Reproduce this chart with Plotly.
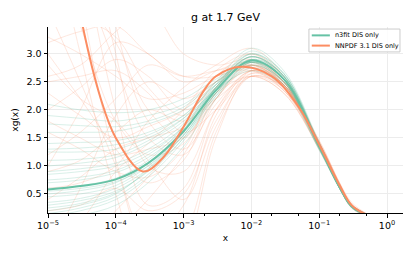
import plotly.graph_objects as go

# ---- data ----
x_grid = [1e-5, 3e-5, 1e-4, 3e-4, 1e-3, 3e-3, 1e-2, 3e-2, 0.1, 0.2, 0.3, 0.5, 0.7]

n3fit_central = [0.58, 0.64, 0.76, 1.05, 1.62, 2.35, 2.88, 2.55, 1.35, 0.62, 0.28, 0.12, 0.04]

n3fit_replicas = [
    [0.15, 0.25, 0.45, 0.85, 1.5, 2.3, 2.95, 2.6, 1.35, 0.6, 0.27, 0.12, 0.04],
    [1.9, 1.85, 1.8, 1.9, 2.1, 2.5, 2.85, 2.45, 1.3, 0.62, 0.3, 0.14, 0.05],
    [0.9, 0.95, 1.05, 1.3, 1.75, 2.4, 2.9, 2.55, 1.38, 0.63, 0.28, 0.12, 0.05],
    [0.3, 0.38, 0.55, 0.9, 1.5, 2.25, 2.8, 2.5, 1.32, 0.6, 0.26, 0.11, 0.04],
    [1.4, 1.42, 1.45, 1.6, 1.9, 2.45, 3.0, 2.65, 1.4, 0.66, 0.3, 0.13, 0.05],
    [0.05, 0.12, 0.3, 0.7, 1.35, 2.2, 2.85, 2.55, 1.33, 0.6, 0.27, 0.13, 0.05],
    [0.7, 0.75, 0.88, 1.15, 1.65, 2.35, 2.9, 2.6, 1.36, 0.63, 0.27, 0.12, 0.04],
    [1.1, 1.12, 1.2, 1.45, 1.85, 2.5, 3.1, 2.7, 1.42, 0.64, 0.29, 0.13, 0.05],
    [0.45, 0.5, 0.65, 1.0, 1.6, 2.3, 2.75, 2.45, 1.3, 0.6, 0.26, 0.12, 0.04],
    [0.2, 0.3, 0.5, 0.95, 1.6, 2.4, 3.05, 2.65, 1.4, 0.65, 0.28, 0.12, 0.05],
    [1.6, 1.6, 1.62, 1.75, 2.0, 2.45, 2.8, 2.5, 1.34, 0.62, 0.28, 0.12, 0.04],
    [0.6, 0.65, 0.78, 1.1, 1.7, 2.45, 3.0, 2.6, 1.35, 0.6, 0.25, 0.1, 0.04],
    [1.25, 1.25, 1.3, 1.5, 1.85, 2.35, 2.7, 2.4, 1.28, 0.6, 0.27, 0.13, 0.05],
    [0.35, 0.42, 0.6, 0.95, 1.55, 2.3, 2.9, 2.62, 1.38, 0.62, 0.27, 0.12, 0.04],
    [0.85, 0.9, 1.0, 1.25, 1.7, 2.4, 2.95, 2.55, 1.35, 0.62, 0.28, 0.12, 0.05],
    [2.1, 2.0, 1.95, 2.0, 2.2, 2.55, 2.85, 2.5, 1.32, 0.62, 0.28, 0.12, 0.05],
    [0.5, 0.56, 0.7, 1.05, 1.65, 2.4, 2.95, 2.6, 1.37, 0.62, 0.27, 0.12, 0.04],
    [1.0, 1.05, 1.15, 1.4, 1.8, 2.4, 2.85, 2.5, 1.33, 0.61, 0.28, 0.12, 0.05],
    [0.25, 0.33, 0.52, 0.92, 1.55, 2.35, 3.0, 2.65, 1.38, 0.62, 0.27, 0.12, 0.04],
    [1.75, 1.72, 1.7, 1.8, 2.05, 2.5, 2.9, 2.55, 1.35, 0.63, 0.28, 0.12, 0.05],
    [0.75, 0.8, 0.92, 1.2, 1.7, 2.4, 2.95, 2.6, 1.36, 0.62, 0.27, 0.12, 0.04],
    [0.1, 0.2, 0.4, 0.8, 1.45, 2.25, 2.85, 2.55, 1.35, 0.62, 0.28, 0.12, 0.05],
    [1.3, 1.32, 1.38, 1.55, 1.9, 2.45, 2.95, 2.6, 1.38, 0.63, 0.28, 0.12, 0.05],
    [0.55, 0.6, 0.72, 1.0, 1.55, 2.3, 2.85, 2.55, 1.34, 0.61, 0.27, 0.12, 0.04],
]

nnpdf_x = [1e-5, 2e-5, 3e-5, 6e-5, 1e-4, 2.5e-4, 5e-4, 1e-3, 2e-3, 3e-3, 7e-3,
           2e-2, 5e-2, 0.1, 0.2, 0.3, 0.5, 0.7]
nnpdf_central = [8.0, 5.0, 3.7, 2.2, 1.5, 0.9, 1.15, 1.7, 2.35, 2.6, 2.77,
                 2.6, 2.05, 1.38, 0.65, 0.3, 0.12, 0.04]

nnpdf_replicas = [
    [3.3, 3.0, 2.6, 2.2, 2.3, 2.6, 2.7, 2.35, 1.4, 0.7, 0.32, 0.14, 0.05],
    [6.0, 4.5, 2.8, 1.5, 1.2, 2.2, 2.85, 2.5, 1.35, 0.6, 0.28, 0.12, 0.05],
    [-1.0, -0.5, 0.2, 0.8, 1.6, 2.5, 2.8, 2.45, 1.4, 0.66, 0.3, 0.14, 0.05],
    [2.0, 2.4, 2.9, 2.6, 2.0, 2.4, 2.9, 2.5, 1.3, 0.6, 0.26, 0.1, 0.04],
    [8.0, 5.0, 2.0, 0.3, 0.6, 2.0, 2.7, 2.4, 1.45, 0.7, 0.35, 0.15, 0.06],
    [0.4, 0.8, 1.3, 1.5, 1.7, 2.3, 2.6, 2.3, 1.3, 0.62, 0.3, 0.13, 0.05],
    [4.5, 4.0, 3.2, 2.0, 1.5, 2.4, 2.95, 2.55, 1.4, 0.65, 0.28, 0.12, 0.05],
    [-2.0, -1.0, -0.2, 0.4, 1.2, 2.2, 2.75, 2.5, 1.45, 0.68, 0.3, 0.12, 0.04],
    [3.0, 2.2, 1.3, 0.7, 1.1, 2.3, 2.8, 2.4, 1.35, 0.63, 0.29, 0.13, 0.05],
    [1.2, 1.6, 2.2, 2.8, 2.6, 2.7, 2.8, 2.45, 1.38, 0.62, 0.27, 0.12, 0.05],
    [10.0, 6.0, 3.0, 1.0, 0.9, 2.0, 2.65, 2.4, 1.4, 0.66, 0.3, 0.13, 0.05],
    [2.6, 2.8, 3.4, 3.8, 3.0, 2.8, 2.9, 2.5, 1.35, 0.6, 0.25, 0.1, 0.04],
    [0.2, 0.3, 0.6, 0.2, 0.5, 1.8, 2.6, 2.4, 1.42, 0.68, 0.32, 0.14, 0.05],
    [5.0, 3.5, 1.8, 1.2, 1.4, 2.3, 2.7, 2.35, 1.3, 0.6, 0.3, 0.15, 0.06],
    [1.6, 1.3, 0.9, 0.8, 1.3, 2.4, 2.85, 2.5, 1.4, 0.66, 0.3, 0.12, 0.04],
    [3.5, 3.6, 3.3, 2.4, 1.9, 2.5, 2.75, 2.45, 1.37, 0.64, 0.29, 0.13, 0.05],
    [-0.5, 0.6, 1.9, 2.5, 2.2, 2.5, 2.8, 2.5, 1.36, 0.62, 0.27, 0.12, 0.04],
    [7.0, 4.0, 1.1, -0.3, 0.3, 1.9, 2.7, 2.45, 1.4, 0.65, 0.3, 0.13, 0.05],
    [2.3, 1.9, 1.5, 1.7, 2.0, 2.6, 3.0, 2.6, 1.4, 0.65, 0.3, 0.14, 0.05],
    [0.9, 1.1, 1.6, 2.0, 1.8, 2.2, 2.6, 2.3, 1.32, 0.62, 0.3, 0.14, 0.05],
    [3.8, 2.5, 1.0, -0.5, -0.2, 1.6, 2.6, 2.4, 1.4, 0.68, 0.31, 0.13, 0.05],
    [1.0, 2.0, 3.2, 3.0, 2.5, 2.7, 2.85, 2.45, 1.35, 0.62, 0.28, 0.12, 0.05],
    [12.0, 7.0, 3.5, 1.8, 1.3, 2.1, 2.7, 2.45, 1.4, 0.66, 0.3, 0.13, 0.05],
    [2.8, 2.2, 1.8, 1.1, 0.4, 1.7, 2.7, 2.5, 1.42, 0.66, 0.3, 0.13, 0.05],
    [-0.5, 0.0, 0.9, 1.4, 2.0, 2.7, 3.0, 2.55, 1.35, 0.6, 0.26, 0.11, 0.04],
    [3.2, 3.4, 3.5, 3.0, 2.6, 2.6, 2.8, 2.45, 1.38, 0.64, 0.29, 0.12, 0.05],
    [1.8, 1.5, 1.2, 1.3, 1.5, 2.2, 2.8, 2.5, 1.4, 0.65, 0.3, 0.13, 0.05],
    [5.5, 3.0, 0.5, -1.0, -0.5, 1.5, 2.65, 2.45, 1.42, 0.68, 0.31, 0.14, 0.05],
    [2.5, 2.6, 2.7, 2.3, 1.6, 2.0, 2.6, 2.35, 1.33, 0.62, 0.29, 0.13, 0.05],
    [0.6, 0.7, 1.0, 1.8, 2.4, 2.8, 3.1, 2.6, 1.4, 0.64, 0.28, 0.12, 0.04],
]

labels = ["n3fit DIS only", "NNPDF 3.1 DIS only"]
title_text = "g at 1.7 GeV"
x_tickvals = [1e-5, 1e-4, 1e-3, 1e-2, 1e-1, 1e0]
x_ticktext = ["10<sup>\u22125</sup>", "10<sup>\u22124</sup>", "10<sup>\u22123</sup>",
              "10<sup>\u22122</sup>", "10<sup>\u22121</sup>", "10<sup>0</sup>"]
y_tickvals = [0.5, 1.0, 1.5, 2.0, 2.5, 3.0]
y_ticktext = ["0.5", "1.0", "1.5", "2.0", "2.5", "3.0"]

TEAL = "#66c2a5"
ORANGE = "#fc8d62"

fig = go.Figure()

for rep in nnpdf_replicas:
    fig.add_trace(go.Scatter(x=x_grid, y=rep, mode="lines",
                             line=dict(color=ORANGE, width=0.8, shape="spline"),
                             opacity=0.25, showlegend=False, hoverinfo="skip"))
for rep in n3fit_replicas:
    fig.add_trace(go.Scatter(x=x_grid, y=rep, mode="lines",
                             line=dict(color=TEAL, width=0.8, shape="spline"),
                             opacity=0.3, showlegend=False, hoverinfo="skip"))

fig.add_trace(go.Scatter(x=x_grid, y=n3fit_central, mode="lines", name=labels[0],
                         line=dict(color=TEAL, width=2, shape="spline"), showlegend=False))
fig.add_trace(go.Scatter(x=nnpdf_x, y=nnpdf_central, mode="lines", name=labels[1],
                         line=dict(color=ORANGE, width=2, shape="spline"), showlegend=False))

# compact legend drawn in paper coordinates (matplotlib-style box)
leg_box = dict(x0=0.735, x1=0.9915, y0=0.866, y1=0.989)
fig.add_shape(type="rect", xref="paper", yref="paper", layer="above",
              fillcolor="rgba(255,255,255,0.85)", line=dict(color="#cccccc", width=1),
              **leg_box)
leg_rows_y = [0.955, 0.9]
for lab, col, yy in zip(labels, [TEAL, ORANGE], leg_rows_y):
    fig.add_shape(type="line", xref="paper", yref="paper", layer="above",
                  x0=0.743, x1=0.794, y0=yy, y1=yy, line=dict(color=col, width=2))
    fig.add_annotation(text=lab, xref="paper", yref="paper", x=0.803, y=yy,
                       xanchor="left", yanchor="middle", showarrow=False,
                       font=dict(size=6.5, color="black"))

font_family = "DejaVu Sans"
fig.update_layout(
    width=415, height=255,
    margin=dict(l=48, r=12, t=27, b=42),
    paper_bgcolor="white", plot_bgcolor="white",
    font=dict(family=font_family, color="black", size=9),
    title=dict(text=title_text, x=0.5, xref="paper", xanchor="center",
               y=0.933, yanchor="middle",
               font=dict(size=11, family=font_family, color="black")),
    showlegend=False,
)
fig.update_xaxes(
    type="log", range=[-5, 0.236],
    tickvals=x_tickvals, ticktext=x_ticktext,
    showline=True, linecolor="black", linewidth=1,
    ticks="outside", ticklen=3.5, tickcolor="black", tickwidth=1,
    showgrid=True, gridcolor="#ececec", gridwidth=1, zeroline=False,
    minor=dict(ticks="outside", ticklen=2, tickcolor="black", showgrid=False),
    title=dict(text="x", font=dict(size=9), standoff=4),
    tickfont=dict(size=9.5),
)
fig.update_yaxes(
    range=[0.16, 3.48],
    tickvals=y_tickvals, ticktext=y_ticktext,
    showline=True, linecolor="black", linewidth=1,
    ticks="outside", ticklen=3.5, tickcolor="black", tickwidth=1,
    showgrid=True, gridcolor="#ececec", gridwidth=1, zeroline=False,
    title=dict(text="xg(x)", font=dict(size=9), standoff=6),
    tickfont=dict(size=9.5),
)

fig.write_html("out.html", config={"displayModeBar": False},
               post_script="document.body.style.margin='0';")
